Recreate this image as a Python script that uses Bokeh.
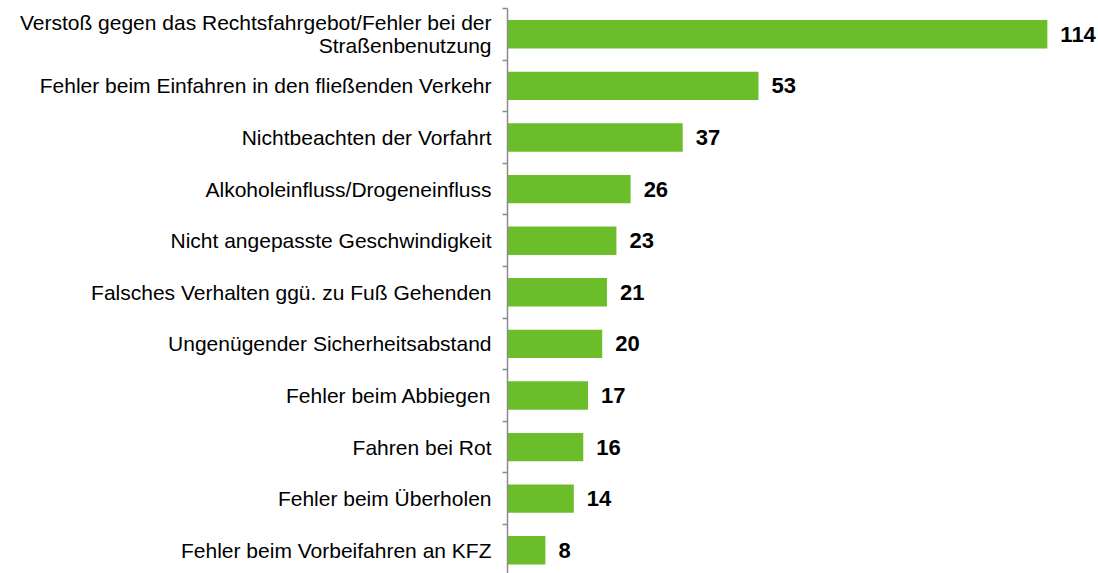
from bokeh.plotting import figure
from bokeh.models import Range1d, LinearAxis, FixedTicker
from bokeh.core.properties import value
from bokeh.embed import file_html
from bokeh.resources import INLINE

categories = [
    "Verstoß gegen das Rechtsfahrgebot/Fehler bei der\nStraßenbenutzung",
    "Fehler beim Einfahren in den fließenden Verkehr",
    "Nichtbeachten der Vorfahrt",
    "Alkoholeinfluss/Drogeneinfluss",
    "Nicht angepasste Geschwindigkeit",
    "Falsches Verhalten ggü. zu Fuß Gehenden",
    "Ungenügender Sicherheitsabstand",
    "Fehler beim Abbiegen",
    "Fahren bei Rot",
    "Fehler beim Überholen",
    "Fehler beim Vorbeifahren an KFZ",
]
values = [114, 53, 37, 26, 23, 21, 20, 17, 16, 14, 8]

n = len(categories)
pos = [i + 0.5 for i in range(n)]

p = figure(width=1098, height=573, output_backend="svg", toolbar_location=None,
           x_range=Range1d(0, 124.8), y_range=Range1d(10.95, 0),
           min_border_left=507, min_border_right=0, min_border_top=8, min_border_bottom=0,
           x_axis_location=None, y_axis_location=None)
p.outline_line_color = None
p.grid.visible = False
p.background_fill_color = "white"
p.border_fill_color = "white"

# tick axis (boundaries between categories)
tick_axis = LinearAxis(ticker=FixedTicker(ticks=list(range(n + 1))))
tick_axis.axis_line_color = "#8c8c8c"
tick_axis.axis_line_width = 1.5
tick_axis.major_tick_line_color = "#8c8c8c"
tick_axis.major_tick_line_width = 1.5
tick_axis.major_tick_out = 5
tick_axis.major_tick_in = 0
tick_axis.minor_tick_line_color = None
tick_axis.major_label_text_font_size = "1px"
tick_axis.major_label_text_alpha = 0
tick_axis.major_label_standoff = 0
p.add_layout(tick_axis, "left")

# label axis
label_axis = LinearAxis(ticker=FixedTicker(ticks=pos))
label_axis.major_label_overrides = {pv: c for pv, c in zip(pos, categories)}
label_axis.axis_line_color = None
label_axis.major_tick_line_color = None
label_axis.minor_tick_line_color = None
label_axis.major_tick_out = 0
label_axis.major_tick_in = 0
label_axis.major_label_standoff = 11
label_axis.major_label_text_font = "Liberation Sans"
label_axis.major_label_text_font_size = "21px"
label_axis.major_label_text_line_height = 1.0
label_axis.major_label_text_color = "#000000"
p.add_layout(label_axis, "left")

p.hbar(y=pos, right=values, left=0, height=0.55, fill_color="#6BBE2A", line_color=None)

p.text(x=values, y=pos, text=[str(v) for v in values], x_offset=13,
       text_font=value("Liberation Sans"), text_font_style="bold",
       text_font_size="22px", text_baseline="middle", text_align="left",
       text_color="#000000")

open("out.html", "w").write(file_html(p, INLINE))
